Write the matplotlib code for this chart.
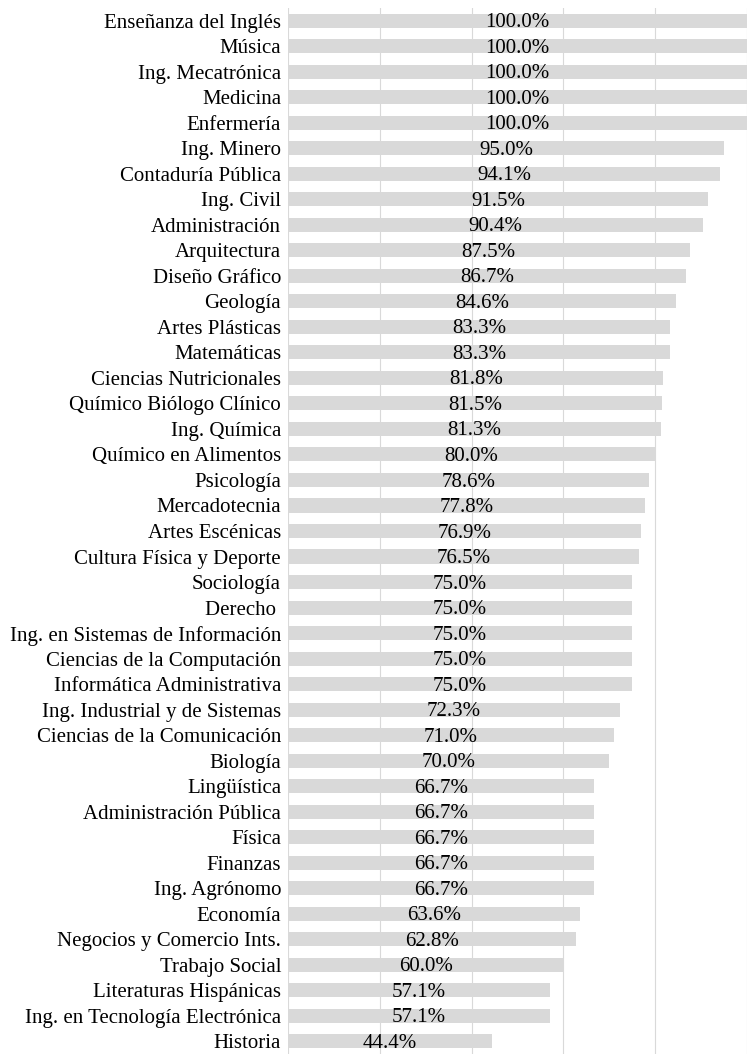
import matplotlib.pyplot as plt
import numpy as np

plt.rcParams['font.family'] = ['Liberation Serif', 'DejaVu Serif']

carreras = ['Enseñanza del Inglés', 'Música', 'Ing. Mecatrónica', 'Medicina', 'Enfermería',
            'Ing. Minero', 'Contaduría Pública', 'Ing. Civil', 'Administración', 'Arquitectura',
            'Diseño Gráfico', 'Geología', 'Artes Plásticas', 'Matemáticas',
            'Ciencias Nutricionales', 'Químico Biólogo Clínico', 'Ing. Química',
            'Químico en Alimentos', 'Psicología', 'Mercadotecnia', 'Artes Escénicas',
            'Cultura Física y Deporte', 'Sociología', 'Derecho ',
            'Ing. en Sistemas de Información', 'Ciencias de la Computación',
            'Informática Administrativa', 'Ing. Industrial y de Sistemas',
            'Ciencias de la Comunicación', 'Biología', 'Lingüística', 'Administración Pública',
            'Física', 'Finanzas', 'Ing. Agrónomo', 'Economía', 'Negocios y Comercio Ints.',
            'Trabajo Social', 'Literaturas Hispánicas', 'Ing. en Tecnología Electrónica',
            'Historia']
porcentaje = [100.0, 100.0, 100.0, 100.0, 100.0, 95.0, 94.1, 91.5, 90.4, 87.5,
              86.7, 84.6, 83.3, 83.3, 81.8, 81.5, 81.3, 80.0, 78.6, 77.8,
              76.9, 76.5, 75.0, 75.0, 75.0, 75.0, 75.0, 72.3, 71.0, 70.0,
              66.7, 66.7, 66.7, 66.7, 66.7, 63.6, 62.8, 60.0, 57.1, 57.1, 44.4]

fig = plt.figure(figsize=(7.47, 10.54), dpi=100)
ax = fig.add_axes([288/747, 0.0, 1 - 288/747, 1 - 8/1054])

y = np.arange(len(carreras))
ax.barh(y, porcentaje, height=0.55, color='#d9d9d9', zorder=2)

for yi, v in zip(y, porcentaje):
    ax.text(v/2, yi + 0.08, '{:.1f}%'.format(v), ha='center', va='center',
            fontsize=15, color='black', zorder=3)

ax.set_xlim(0, 100)
ax.set_ylim(len(carreras) - 0.5, -0.5)
ax.set_yticks(y)
ax.set_yticklabels(carreras, fontsize=15, color='black')
ax.set_xticks([0, 20, 40, 60, 80, 100])
ax.set_xticklabels([])
ax.tick_params(length=0, pad=5)
ax.grid(axis='x', color='#d9d9d9', linewidth=0.8, zorder=0)
for s in ax.spines.values():
    s.set_visible(False)

fig.savefig('out.png', dpi=100)
